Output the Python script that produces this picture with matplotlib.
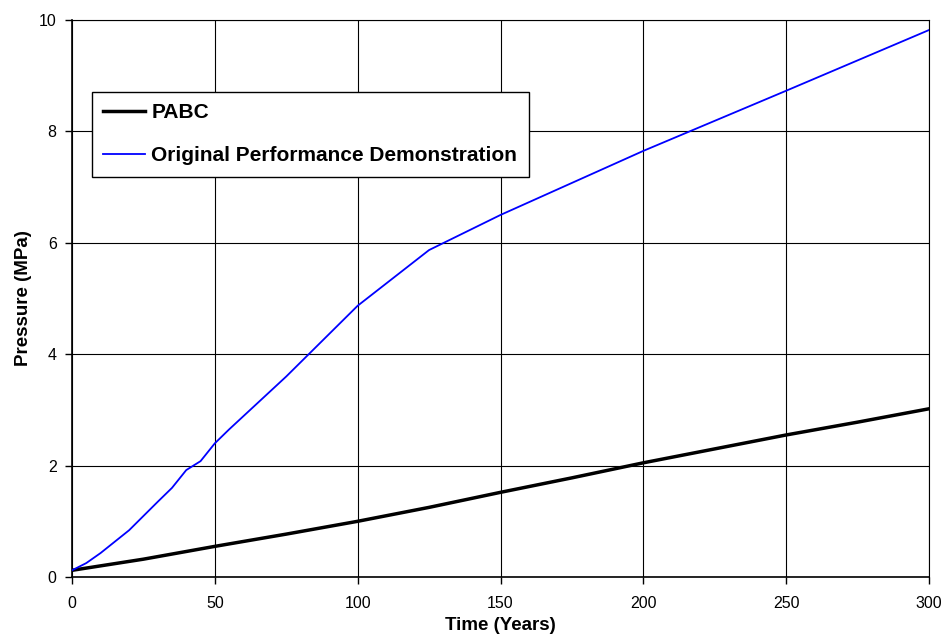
import matplotlib
matplotlib.use("Agg")
import matplotlib.pyplot as plt

plt.rcParams['font.family'] = ['Liberation Sans', 'DejaVu Sans']

# PABC repository pressure
pabc_t = [0, 25, 50, 75, 100, 125, 150, 175, 200, 225, 250, 275, 300]
pabc_p = [0.12, 0.32, 0.55, 0.77, 1.0, 1.25, 1.52, 1.78, 2.05, 2.3, 2.55, 2.78, 3.02]

# original performance demonstration
opd_t = [0, 5, 10, 20, 30, 35, 40, 45, 50, 55, 75, 100, 125, 150, 200, 250, 300]
opd_p = [0.12, 0.25, 0.43, 0.84, 1.35, 1.6, 1.92, 2.08, 2.4, 2.65, 3.6, 4.87, 5.87, 6.5, 7.65, 8.73, 9.82]

xticks = [0, 50, 100, 150, 200, 250, 300]
yticks = [0, 2, 4, 6, 8, 10]

fig = plt.figure(figsize=(9.44, 6.34), dpi=100)
ax = fig.add_axes([72 / 944, 1 - 577 / 634, 857 / 944, 557 / 634])

ax.plot(pabc_t, pabc_p, color='black', lw=2.5, label='PABC', zorder=3)
ax.plot(opd_t, opd_p, color='#0000ff', lw=1.3, label='Original Performance Demonstration', zorder=3)

ax.set_xlim(0, 300)
ax.set_ylim(0, 10)
ax.set_xticks(xticks)
ax.set_yticks(yticks)
ax.tick_params(labelsize=11.5, direction='out', length=5, width=1)
ax.tick_params(axis='x', pad=9)
ax.tick_params(axis='y', pad=6)
ax.grid(True, color='black', lw=0.8)
for s in ax.spines.values():
    s.set_linewidth(0.8)
ax.spines['left'].set_linewidth(1.2)
ax.spines['bottom'].set_linewidth(1.2)

ax.set_xlabel('Time (Years)', fontsize=13.5, fontweight='bold', labelpad=4)
ax.set_ylabel('Pressure (MPa)', fontsize=13.5, fontweight='bold', labelpad=5)

leg = ax.legend(loc='upper left', bbox_to_anchor=(20 / 857, (577 - 92) / 557),
                borderaxespad=0, fancybox=False, edgecolor='black', framealpha=1,
                prop={'weight': 'bold', 'size': 15}, handlelength=2.0,
                handletextpad=0.3, labelspacing=1.14, borderpad=0.55)
leg.get_frame().set_linewidth(1.0)

fig.savefig('out.png', dpi=100)
